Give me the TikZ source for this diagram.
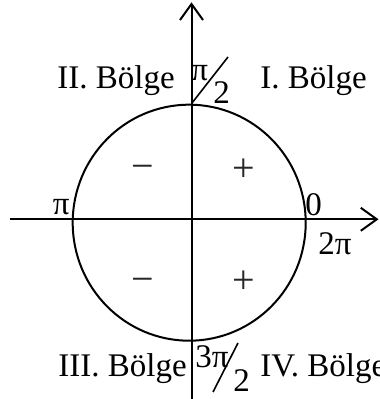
\documentclass[tikz,border=0pt]{standalone}
\usepackage{fontspec}
\setmainfont{Liberation Serif}
\usetikzlibrary{arrows.meta,positioning}

\begin{document}
\begin{tikzpicture}[
  x=0.5pt, y=0.5pt,
  axis/.style={line width=1pt, -{Straight Barb[length=8pt,width=11.5pt,line width=1pt]}},
  ring/.style={line width=1pt},
  lbl/.style={inner sep=0pt, font=\fontsize{16.5}{19}\selectfont},
  sgn/.style={inner sep=0pt, font=\fontsize{20}{22}\selectfont, text=black!85},
  frac/.style={line width=0.8pt}
]
\useasboundingbox (-191.5,-179.7) rectangle (187.5,219.3);

% Axes
\coordinate (o)    at (0,0);
\coordinate (ybot) at (0,-182);
\coordinate (ytop) at (0,217);
\coordinate (xl)   at (-181,0);
\coordinate (xr)   at (187,0);
\draw[axis] (ybot) -- (ytop);
\draw[axis] (xl) -- (xr);

% Unit circle
\draw[ring] (-2.3,-3.4) ellipse [x radius=116.5, y radius=118];

% Quadrant names
\node[lbl, anchor=base west] (q2) at (-134.5,130.3) {II. Bölge};
\node[lbl, anchor=base west] (q1) at (68.5,130.3)   {I. Bölge};
\node[lbl, anchor=base west] (q3) at (-133.5,-157.7) {III. Bölge};
\node[lbl, anchor=base west] (q4) at (68.5,-157.7)  {IV. Bölge};

% Angles on the axes
\node[lbl, anchor=base east] (api)  at (-121.5,4.3)  {π};
\node[lbl, anchor=base west] (azero) at (113.5,3.3)  {0};
\node[lbl, anchor=base west] (atwo)  at (126.5,-35.7) {2π};

% pi/2 at the top
\node[lbl, anchor=base west] (hnum) at (-0.5,139)   {π};
\node[lbl, anchor=base west] (hden) at (21.5,115.3) {2};
\coordinate (hs1) at (0.5,116.3);
\coordinate (hs2) at (36.5,162.3);
\draw[frac] (hs1) -- (hs2);

% 3pi/2 at the bottom
\node[lbl, anchor=base west] (tnum) at (3.5,-148.7)  {3π};
\node[lbl, anchor=base west] (tden) at (41.5,-172.7) {2};
\coordinate (ts1) at (21.5,-172.7);
\coordinate (ts2) at (46.5,-123.7);
\draw[frac] (ts1) -- (ts2);

% Signs in the quadrants
\node[sgn] (s2) at (-49,47.3)  {−};
\node[sgn] (s1) at (52,49.3)   {+};
\node[sgn] (s3) at (-49,-65.7) {−};
\node[sgn] (s4) at (52,-62.7)  {+};

\end{tikzpicture}
\end{document}
